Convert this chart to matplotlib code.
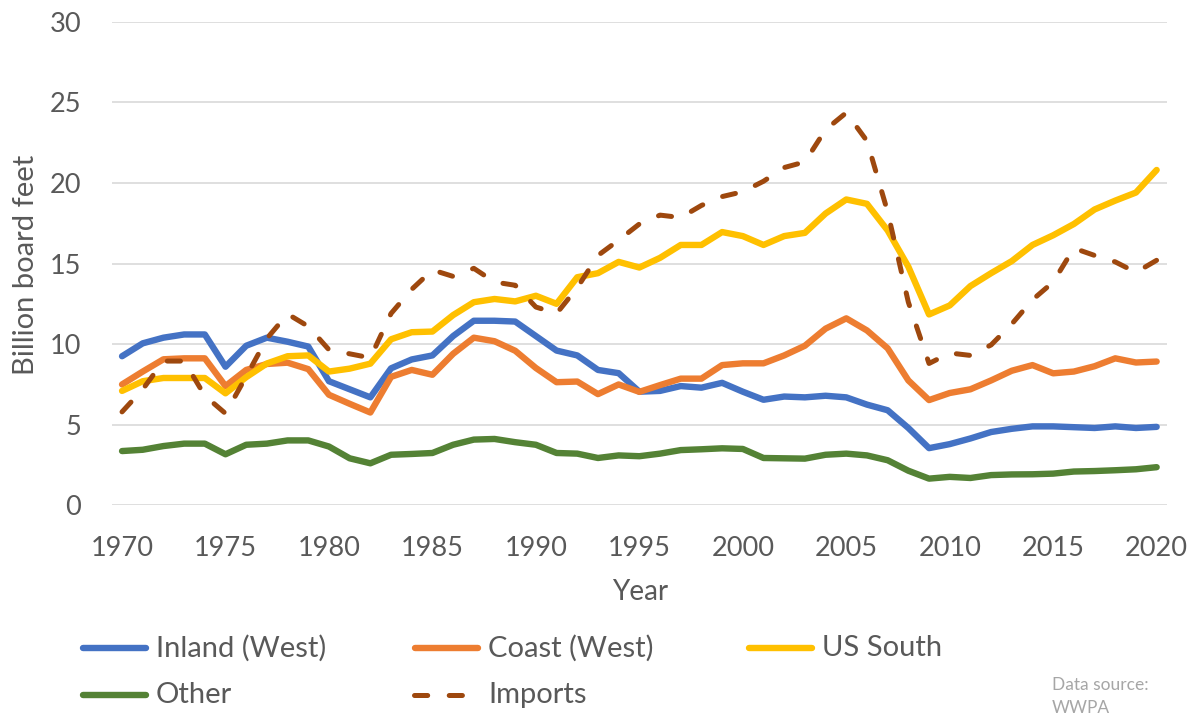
import matplotlib
matplotlib.use('Agg')
import matplotlib.pyplot as plt
from matplotlib.lines import Line2D

plt.rcParams['font.family'] = ['Lato', 'DejaVu Sans']
plt.rcParams['lines.scale_dashes'] = False

years = list(range(1970, 2021))
inland = [9.25, 10.05, 10.4, 10.6, 10.6, 8.6, 9.9, 10.4, 10.15, 9.85,
          7.7, 7.2, 6.7, 8.5, 9.05, 9.3, 10.5, 11.45, 11.45, 11.4,
          10.5, 9.6, 9.3, 8.4, 8.2, 7.05, 7.1, 7.4, 7.3, 7.6,
          7.05, 6.55, 6.75, 6.7, 6.8, 6.7, 6.25, 5.9, 4.8, 3.55,
          3.8, 4.15, 4.55, 4.75, 4.9, 4.9, 4.85, 4.8, 4.9, 4.8, 4.87]
coast = [7.5, 8.3, 9.06, 9.12, 9.12, 7.4, 8.4, 8.77, 8.85, 8.45,
         6.86, 6.3, 5.76, 7.97, 8.4, 8.1, 9.4, 10.4, 10.18, 9.59,
         8.52, 7.64, 7.68, 6.9, 7.5, 7.04, 7.46, 7.86, 7.86, 8.7,
         8.81, 8.81, 9.3, 9.9, 10.96, 11.6, 10.85, 9.74, 7.75, 6.53,
         6.97, 7.2, 7.75, 8.35, 8.7, 8.19, 8.3, 8.63, 9.12, 8.86, 8.92]
us_south = [7.1, 7.7, 7.9, 7.9, 7.9, 6.95, 7.95, 8.8, 9.25, 9.3,
            8.3, 8.48, 8.79, 10.3, 10.74, 10.78, 11.8, 12.6, 12.8, 12.65,
            13.0, 12.5, 14.15, 14.4, 15.1, 14.75, 15.35, 16.15, 16.15, 16.95,
            16.7, 16.15, 16.7, 16.9, 18.1, 18.97, 18.7, 17.05, 14.8, 11.84,
            12.4, 13.6, 14.4, 15.15, 16.15, 16.75, 17.45, 18.35, 18.9, 19.4, 20.8]
other = [3.37, 3.45, 3.68, 3.83, 3.83, 3.17, 3.76, 3.83, 4.03, 4.03,
         3.65, 2.92, 2.61, 3.14, 3.19, 3.25, 3.76, 4.08, 4.12, 3.92,
         3.76, 3.25, 3.21, 2.94, 3.1, 3.05, 3.21, 3.43, 3.48, 3.54,
         3.5, 2.94, 2.92, 2.9, 3.14, 3.21, 3.1, 2.8, 2.15, 1.66,
         1.77, 1.7, 1.88, 1.92, 1.93, 1.97, 2.1, 2.13, 2.18, 2.24, 2.37]
imports = [5.8, 7.2, 8.95, 8.95, 6.8, 5.7, 8.0, 10.35, 11.87, 11.1,
           9.65, 9.4, 9.15, 11.9, 13.4, 14.6, 14.2, 14.7, 13.85, 13.65,
           12.3, 11.9, 13.5, 15.5, 16.45, 17.45, 18.0, 17.85, 18.6, 19.15,
           19.45, 20.1, 20.95, 21.3, 23.3, 24.35, 22.6, 18.2, 12.6, 8.8,
           9.45, 9.3, 9.95, 11.25, 12.75, 13.85, 15.95, 15.5, 15.1, 14.45, 15.2]

labels = ['Inland (West)', 'Coast (West)', 'US South', 'Other', 'Imports']
colors = ['#4472C4', '#ED7D31', '#FFC000', '#548235', '#9E480E']
series = [inland, coast, us_south, other, imports]

W, H = 1196, 717
fig = plt.figure(figsize=(W / 100, H / 100), dpi=100)
ax = fig.add_axes([111.7 / W, 1 - 505.4 / H, (1167 - 111.7) / W, (505.4 - 21.6) / H])

TXT = '#595959'
DASH = (0, (9.5, 15.5))
for s, lab, c in zip(series, labels, colors):
    if lab == 'Imports':
        ax.plot(years, s, color=c, lw=3.6, linestyle=DASH,
                dash_capstyle='round', solid_joinstyle='round')
    else:
        ax.plot(years, s, color=c, lw=4.6, solid_capstyle='round', solid_joinstyle='round')

ax.set_xlim(1969.5, 2020.5)
ax.set_ylim(0, 30)
ax.set_xticks(range(1970, 2021, 5))
ax.set_yticks(range(0, 31, 5))
for sp in ax.spines.values():
    sp.set_visible(False)
ax.grid(axis='y', color='#d9d9d9', lw=1.2)
ax.set_axisbelow(True)
ax.tick_params(axis='both', length=0, labelsize=19.5, colors=TXT)
ax.tick_params(axis='y', pad=22)
ax.tick_params(axis='x', pad=22)

fig.text(640 / W, 1 - 592 / H, 'Year', ha='center', va='center', fontsize=20, color=TXT)
fig.text(26 / W, 1 - 265 / H, 'Billion board feet', ha='center', va='center',
         rotation=90, fontsize=21, color=TXT)

# legend, drawn by hand
legpos = [(80, 648), (412, 648), (746, 648), (80, 695), (412, 695)]
for (lx, ly), lab, c in zip(legpos, labels, colors):
    if lab == 'Imports':
        fig.add_artist(Line2D([(lx + 2) / W, (lx + 58) / W], [1 - ly / H, 1 - ly / H], color=c, lw=3.6,
                              linestyle=DASH, dash_capstyle='round'))
    else:
        fig.add_artist(Line2D([(lx + 3) / W, (lx + 66) / W], [1 - ly / H, 1 - ly / H], color=c, lw=4.6,
                              solid_capstyle='round'))
    fig.text((lx + 76) / W, 1 - ly / H, lab, ha='left', va='center', fontsize=21, color=TXT)

fig.text(1052 / W, 1 - 685 / H, 'Data source:', ha='left', va='center', fontsize=12.5, color='#A6A6A6')
fig.text(1052 / W, 1 - 708 / H, 'WWPA', ha='left', va='center', fontsize=12.5, color='#A6A6A6')

fig.savefig('out.png', dpi=100)
